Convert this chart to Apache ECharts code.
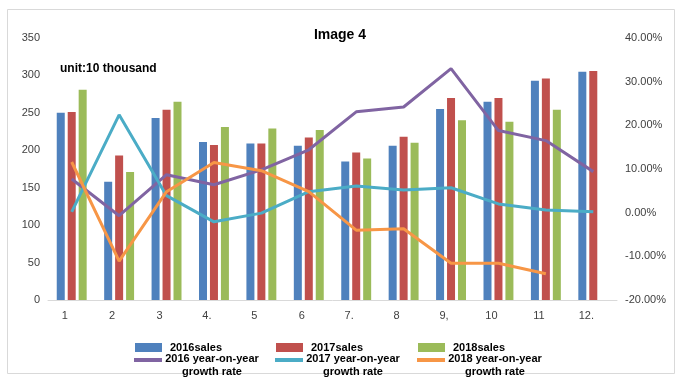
<!DOCTYPE html>
<html>
<head>
<meta charset="utf-8">
<script src="https://cdn.jsdelivr.net/npm/echarts@6/dist/echarts.min.js"></script>
<style>html,body{margin:0;padding:0;background:#fff}#c{width:680px;height:383px}</style>
</head>
<body>
<div id="c"></div>
<script>
var categories = ['1','2','3','4.','5','6','7.','8','9,','10','11','12.'];
var sales2016 = [250,158,243,211,209,206,185,206,255,265,293,305];
var sales2017 = [251,193,254,207,209,217,197,218,270,270,296,306];
var sales2018 = [281,171,265,231,229,227,189,210,240,238,254,null];
var growth2016 = [7.7,-0.7,8.7,6.4,9.8,14.4,23.1,24.2,33.0,18.8,16.5,9.4];
var growth2017 = [0.2,22.4,3.9,-2.1,-0.1,4.8,6.1,5.2,5.7,2.0,0.6,0.2];
var growth2018 = [11.6,-11.1,4.8,11.5,9.6,4.8,-4.0,-3.7,-11.6,-11.6,-14.0,null];
var leftTicks = {min:0, max:350, interval:50};
var rightTicks = {min:-20, max:40, interval:10};

var barNames = ['2016sales','2017sales','2018sales'];
var lineNames = ['2016 year-on-year','2017 year-on-year','2018 year-on-year'];
var barColors = ['#4f81bd','#c0504d','#9bbb59'];
var lineColors = ['#8064a2','#4bacc6','#f79646'];
var barData = [sales2016, sales2017, sales2018];
var lineData = [growth2016, growth2017, growth2018];

var series = [];
barNames.forEach(function(n,i){
  series.push({name:n,type:'bar',yAxisIndex:0,data:barData[i],barWidth:8,barGap:'37%',
    itemStyle:{color:barColors[i]}});
});
lineNames.forEach(function(n,i){
  series.push({name:n,type:'line',yAxisIndex:1,data:lineData[i],symbol:'none',
    lineStyle:{width:3,color:lineColors[i]},itemStyle:{color:lineColors[i]}});
});

var legendFont = {fontFamily:'Liberation Sans, Arial, sans-serif',fontWeight:'bold',fontSize:11,color:'#000'};
var legends = [];
var colX = [135,276,418];
barNames.forEach(function(n,i){
  legends.push({data:[n],left:colX[i],top:342,padding:0,itemWidth:27,itemHeight:9,icon:'rect',
    textStyle:Object.assign({padding:[0,0,0,3]},legendFont)});
});
lineNames.forEach(function(n,i){
  legends.push({data:[n],left:colX[i]-1,top:353,padding:0,itemWidth:28,itemHeight:14,
    icon:'path://M0,0H28V4H0Z M0,13.99H0.01V14H0Z',
    formatter:function(name){return '{a|'+name+'}\n{a|growth rate}';},
    textStyle:Object.assign({padding:[0,0,0,-5],rich:{a:Object.assign({align:'center',width:100,lineHeight:13},legendFont)}},legendFont)});
});

var axisFont = {fontFamily:'Liberation Sans, Arial, sans-serif',fontSize:11,color:'#404040'};
var chart = echarts.init(document.getElementById('c'));
chart.setOption({
  animation:false,
  backgroundColor:'#fff',
  title:[{text:'Image 4',left:'center',top:28,padding:0,
    textStyle:{fontFamily:'Liberation Sans, Arial, sans-serif',fontSize:14,fontWeight:'bold',color:'#000'}},
    {text:'unit:10 thousand',left:60,top:63,padding:0,
    textStyle:{fontFamily:'Liberation Sans, Arial, sans-serif',fontSize:12,fontWeight:'bold',color:'#000'}}],
  graphic:[{type:'rect',shape:{x:7.5,y:9.5,width:667,height:364},silent:true,z:-1,
    style:{fill:'none',stroke:'#d9d9d9',lineWidth:1}}],
  legend:legends,
  grid:{left:48,right:63,top:38,bottom:83},
  xAxis:{type:'category',data:categories,
    axisLine:{lineStyle:{color:'#d9d9d9',width:1}},axisTick:{show:false},
    axisLabel:Object.assign({margin:10,padding:[0,14,0,0]},axisFont)},
  yAxis:[
    {type:'value',min:leftTicks.min,max:leftTicks.max,interval:leftTicks.interval,
     splitLine:{show:false},axisLine:{show:false},axisTick:{show:false},
     axisLabel:Object.assign({margin:8},axisFont)},
    {type:'value',min:rightTicks.min,max:rightTicks.max,interval:rightTicks.interval,
     splitLine:{show:false},axisLine:{show:false},axisTick:{show:false},
     axisLabel:Object.assign({margin:8,formatter:function(v){return v.toFixed(2)+'%';}},axisFont)}
  ],
  series:series
});
</script>
</body>
</html>
